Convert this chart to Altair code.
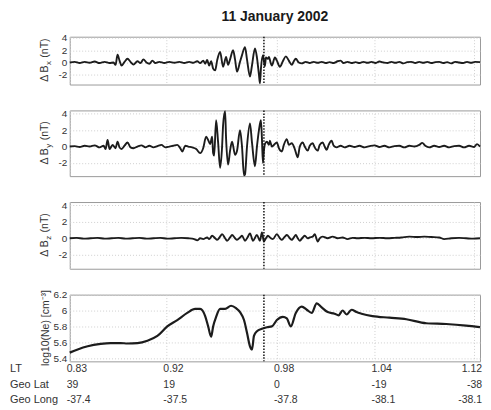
import altair as alt
import pandas as pd

# ---------------- data (sample index along the orbit, value) ----------------
bx_t = [69,74,79,84,89,94,99,104,109,113,115,117,119,121,124,127,130,133,137,140,
        143,146,149,152,155,159,164,169,174,179,184,189,193,197,200,203,205,207,209,211,
        213,215,217,220,223,226,228,230,233,235,237,240,242,245,247,250,252,255,257,259,
        260,261,263,264,265,266,268,269,271,272,275,277,280,283,286,289,292,294,296,299,
        302,306,310,314,318,322,326,330,334,338,341,344,348,352,356,360,364,368,372,376,
        380,384,388,392,396,400,404,408,412,416,420,424,428,432,436,440,444,448,452,456,
        460,464,468,472,476,481]
bx_v = [0.0,0.1,-0.1,0.1,-0.05,0.15,-0.1,0.1,-0.1,0.0,-0.4,1.25,0.3,-0.5,0.1,0.6,0.1,-0.35,0.2,-0.1,
        0.5,0.0,-0.2,0.3,-0.1,0.1,-0.1,0.1,-0.05,0.1,-0.1,0.1,-0.05,0.2,-0.1,0.3,-0.2,0.4,-0.5,0.2,
        -1.0,-1.3,0.3,1.7,-0.7,0.9,-0.4,0.5,2.0,0.5,-1.5,0.1,1.2,2.5,0.5,-2.3,-0.5,2.3,0.8,-2.0,
        -3.4,-1.0,1.2,0.2,-0.6,0.8,0.6,0.9,-0.2,-0.5,0.8,0.3,-0.7,0.2,1.0,0.3,-0.4,0.2,0.6,0.0,
        -0.15,0.1,-0.1,0.1,-0.05,0.1,-0.1,0.05,-0.1,0.2,0.3,-0.1,0.1,-0.1,0.05,-0.1,0.1,-0.05,0.1,-0.1,
        0.15,0.0,-0.1,0.1,-0.05,0.1,-0.15,0.05,0.1,-0.1,0.1,-0.05,0.1,-0.1,0.05,0.1,-0.1,0.05,-0.15,0.1,
        0.0,-0.1,0.1,-0.05,0.1,0.05]

by_t = [69,74,79,84,89,94,99,103,105,107,109,112,115,117,119,121,124,127,130,133,
        137,141,145,149,153,157,161,165,169,173,177,180,182,185,188,192,196,200,203,206,
        208,210,212,213,214,216,218,220,222,223,225,226,228,230,232,235,237,240,242,244,
        245,247,250,252,255,257,259,261,262,263,264,265,267,269,270,272,274,277,279,282,
        284,287,289,292,295,298,300,303,305,308,310,313,315,318,320,323,325,327,329,332,
        334,337,341,345,350,355,360,365,370,375,380,385,390,395,400,405,410,415,420,423,
        426,430,435,440,445,450,455,460,465,470,475,478,481]
by_v = [0.0,0.05,-0.05,0.1,0.0,0.15,-0.1,0.1,-0.3,0.8,-0.3,0.2,-0.2,0.6,-0.1,-0.3,0.1,0.5,-0.1,-0.2,
        0.0,0.15,-0.1,0.1,-0.1,0.05,0.2,-0.1,0.0,0.1,0.2,-0.2,-0.6,0.1,0.0,-0.1,-0.3,-0.8,-0.2,1.2,
        0.8,0.3,1.2,-0.8,-1.1,3.2,0.5,-2.6,0.0,2.6,4.3,1.0,-2.2,-0.5,0.6,-1.0,-0.5,2.0,0.0,-3.5,
        -3.4,0.0,2.8,0.5,-2.4,0.0,2.0,3.2,1.0,-2.0,-0.5,0.3,0.6,0.2,0.7,0.0,0.2,0.5,-0.2,-0.6,
        0.2,0.9,0.2,0.4,-0.3,-1.3,0.0,0.5,0.0,-0.5,0.1,0.4,-0.1,-0.5,0.2,0.5,0.0,-0.4,0.2,0.7,
        0.1,-0.1,0.1,-0.1,0.1,-0.05,0.1,-0.1,0.05,0.15,-0.05,0.1,-0.1,0.05,0.1,-0.1,0.1,0.0,0.2,0.45,
        0.1,-0.1,0.1,-0.05,0.1,-0.1,0.05,0.1,-0.1,0.1,-0.05,0.3,0.0]

bz_t = [69,76,83,90,97,104,111,118,125,132,139,146,153,160,167,174,181,188,194,197,
        200,203,207,209,212,215,217,220,222,225,227,230,232,235,237,240,242,245,248,250,
        253,257,260,262,264,266,268,271,273,277,280,282,285,287,290,292,294,296,298,300,
        303,305,308,310,313,315,318,320,323,328,333,338,343,348,353,358,365,372,380,388,
        395,402,410,418,425,432,440,445,452,460,467,474,481]
bz_v = [0.0,0.05,-0.05,0.0,0.05,-0.05,0.0,0.05,-0.05,0.0,0.05,-0.05,0.0,0.05,-0.05,0.0,0.05,0.0,-0.1,-0.25,
        0.0,-0.1,0.1,-0.1,0.3,0.0,-0.2,0.2,0.5,0.0,-0.3,0.1,0.4,0.0,-0.2,0.1,0.3,-0.3,0.2,0.6,
        -0.3,0.4,-0.3,0.7,-0.4,0.0,0.3,0.0,-0.1,0.5,0.0,-0.2,0.2,0.4,0.0,-0.2,0.1,0.4,0.0,-0.3,
        0.1,0.3,0.0,0.1,0.2,0.5,-0.4,0.0,0.2,0.0,0.2,0.0,0.1,-0.1,0.05,0.0,0.05,0.0,0.05,0.0,
        0.05,0.1,0.2,0.15,0.2,0.15,0.1,-0.1,0.0,0.05,0.0,-0.05,0.0]

ne_t = [69,77,87,100,110,120,127,137,147,157,167,177,187,195,200,205,208,211,213,216,
        220,225,231,236,240,244,247,250,252,254,257,262,267,272,277,283,287,291,296,302,
        307,312,317,322,328,335,339,343,347,352,357,362,373,390,407,427,447,467,481]
ne_v = [5.47,5.51,5.55,5.58,5.59,5.59,5.585,5.59,5.62,5.68,5.80,5.88,5.97,6.02,6.02,5.93,5.80,5.67,5.80,5.92,
        6.02,6.02,6.06,6.03,5.98,5.88,5.72,5.55,5.51,5.68,5.74,5.77,5.79,5.80,5.88,5.92,5.90,5.80,5.97,6.05,
        6.01,5.97,6.09,6.04,5.98,5.96,5.94,6.00,5.95,6.01,5.98,5.96,5.93,5.91,5.89,5.84,5.83,5.81,5.79]

tick_t = [69, 166, 277, 375, 475]
lt_labels = ["0.83", "0.92", "0.98", "1.04", "1.12"]
lat_labels = ["39", "19", "0", "-19", "-38"]
long_labels = ["-37.4", "-37.5", "-37.8", "-38.1", "-38.1"]
row_names = ["LT", "Geo Lat", "Geo Long"]
event_t = [264]

title_text = "11 January 2002"

# ---------------- styling ----------------
FONT = "Liberation Sans"
W = 412
X_DOMAIN = [69, 481]
LINE_COLOR = "#1c1c1c"
TEXT_COLOR = "#333333"
GRID = dict(grid=True, gridColor="#cfcfcf", gridDash=[1, 2], gridWidth=1)


def xenc():
    return alt.X("t:Q",
                 scale=alt.Scale(domain=X_DOMAIN, nice=False, zero=False),
                 axis=alt.Axis(values=tick_t, labels=False, ticks=False, domain=False,
                               title=None, **GRID))


one = pd.DataFrame({"k": [0]})


def panel(t, v, domain, yvals, h, label_layers, width=1.9):
    df = pd.DataFrame({"t": t, "v": v})
    line = alt.Chart(df).mark_line(color=LINE_COLOR, strokeWidth=width, strokeJoin="round",
                                   interpolate="monotone").encode(
        x=xenc(),
        y=alt.Y("v:Q", scale=alt.Scale(domain=domain, nice=False, zero=False),
                axis=alt.Axis(values=yvals, title=None, ticks=False, domain=False,
                              labelFontSize=10, labelColor=TEXT_COLOR, labelPadding=3,
                              labelExpr="'' + datum.value", **GRID)))
    rule = alt.Chart(pd.DataFrame({"t": event_t})).mark_rule(
        color="#111111", strokeDash=[1.5, 1.5], strokeWidth=1.5).encode(x="t:Q")
    return alt.layer(line, rule, *label_layers).properties(width=W, height=h)


def b_label(sub, h):
    yc = h / 2
    a = alt.Chart(one).mark_text(text="Δ B", angle=270, align="right", baseline="alphabetic",
                                 fontSize=10.5, color=TEXT_COLOR).encode(
        x=alt.value(-22), y=alt.value(yc + 5))
    b = alt.Chart(one).mark_text(text=sub, angle=270, align="left", baseline="alphabetic",
                                 fontSize=8, dy=3, dx=0.5, color=TEXT_COLOR).encode(
        x=alt.value(-22), y=alt.value(yc + 5))
    c = alt.Chart(one).mark_text(text="(nT)", angle=270, align="left", baseline="alphabetic",
                                 fontSize=10.5, dx=8, color=TEXT_COLOR).encode(
        x=alt.value(-22), y=alt.value(yc + 5))
    return [a, b, c]


H1, H2, H3, H4 = 48, 66, 67, 67

p1 = panel(bx_t, bx_v, [-3.6, 4.2], [-2, 0, 2, 4], H1, b_label("x", H1)).properties(
    title=alt.TitleParams(title_text, fontSize=14, fontWeight="bold", anchor="middle",
                          frame="group", offset=9, color="#1a1a1a", font=FONT))
p2 = panel(by_t, by_v, [-3.6, 4.4], [-2, 0, 2, 4], H2, b_label("y", H2))
p3 = panel(bz_t, bz_v, [-3.7, 4.4], [-2, 0, 2, 4], H3, b_label("z", H3))

ne_label = alt.Chart(one).mark_text(text="log10(Ne) [cm⁻³]", angle=270, align="center",
                                    baseline="alphabetic", fontSize=10.5, color=TEXT_COLOR).encode(
    x=alt.value(-21), y=alt.value(H4 / 2))

row_y = [H4 + 8, H4 + 24, H4 + 39]
bottom_layers = []
for name, yy in zip(row_names, row_y):
    bottom_layers.append(alt.Chart(one).mark_text(text=name, align="left", baseline="middle",
                                                  fontSize=11, color=TEXT_COLOR).encode(
        x=alt.value(-60), y=alt.value(yy)))
for labels, yy in zip([lt_labels, lat_labels, long_labels], row_y):
    d = pd.DataFrame({"t": tick_t, "lab": labels})
    left = alt.Chart(d.iloc[:-1]).mark_text(align="left", baseline="middle", dx=-3,
                                            fontSize=10.5, color=TEXT_COLOR).encode(
        x="t:Q", y=alt.value(yy), text="lab:N")
    right = alt.Chart(d.iloc[-1:]).mark_text(align="right", baseline="middle", dx=8,
                                             fontSize=10.5, color=TEXT_COLOR).encode(
        x="t:Q", y=alt.value(yy), text="lab:N")
    bottom_layers += [left, right]

p4 = panel(ne_t, ne_v, [5.36, 6.2], [5.4, 5.6, 5.8, 6.0, 6.2], H4, [ne_label] + bottom_layers,
           width=2.2)

chart = alt.vconcat(p1, p2, p3, p4, spacing=26, bounds="flush").properties(
    padding={"left": 1, "top": 0, "right": 0, "bottom": 0}
).configure_view(stroke="#9a9a9a", strokeWidth=1).configure_axis(
    labelFont=FONT).configure_text(font=FONT).configure_title(font=FONT)

chart.save("out.html", embed_options={"renderer": "svg", "actions": False})
